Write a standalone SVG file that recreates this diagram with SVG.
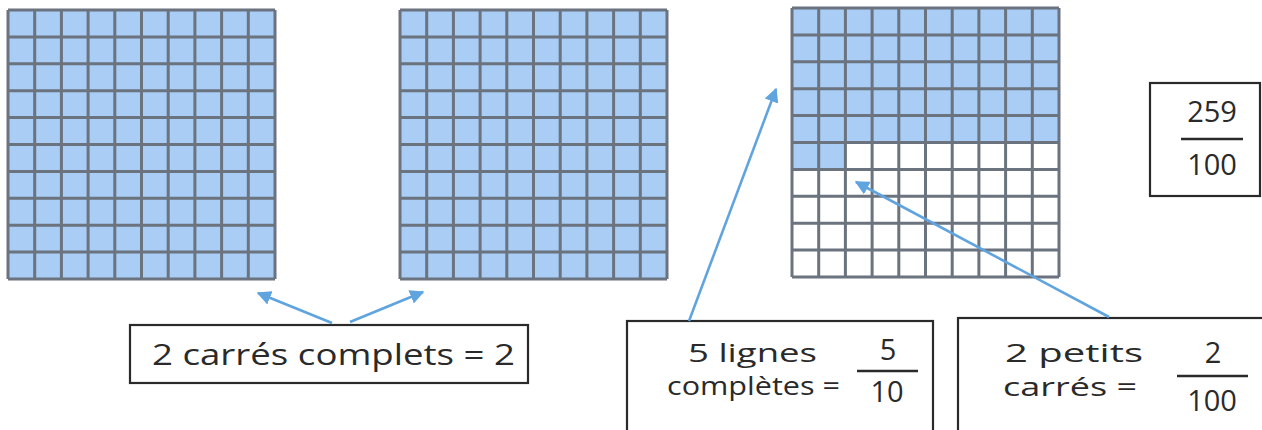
<svg xmlns="http://www.w3.org/2000/svg" xmlns:xlink="http://www.w3.org/1999/xlink" width="1262" height="430" viewBox="0 0 1262 430">
  <style>
    .grid-line { fill: none; stroke: #6a737e; stroke-width: 3; }
    .blue { fill: #a9cdf4; }
    .box { fill: #ffffff; stroke: #2a2a2a; stroke-width: 2.2; }
    .txt { font-family: "Open Sans", "DejaVu Sans", sans-serif; font-size: 29px; fill: #2a2a2a; }
    .small { font-size: 25px; }
    .mid { text-anchor: middle; }
    .bar { stroke: #2a2a2a; stroke-width: 2.6; }
    .conn { fill: none; stroke: #5fa3df; stroke-width: 2.6; }
  </style>
  <defs>
    <marker id="head" viewBox="0 0 10 10" refX="9" refY="5" markerWidth="5.5" markerHeight="5.5" orient="auto" markerUnits="strokeWidth">
      <path d="M0,0 L10,5 L0,10 Z" fill="#5fa3df"/>
    </marker>
    <!-- 10 x 10 lattice of lines, 267 x 269 -->
    <path id="lattice" class="grid-line" d="
      M0,0 V269 M26.7,0 V269 M53.4,0 V269 M80.1,0 V269 M106.8,0 V269 M133.5,0 V269
      M160.2,0 V269 M186.9,0 V269 M213.6,0 V269 M240.3,0 V269 M267,0 V269
      M0,0 H267 M0,26.9 H267 M0,53.8 H267 M0,80.7 H267 M0,107.6 H267 M0,134.5 H267
      M0,161.4 H267 M0,188.3 H267 M0,215.2 H267 M0,242.1 H267 M0,269 H267"/>
  </defs>

  <!-- full hundred square -->
  <g id="square-1" transform="translate(8,10)">
    <rect class="blue" x="0" y="0" width="267" height="269"/>
    <use xlink:href="#lattice"/>
  </g>

  <!-- full hundred square -->
  <g id="square-2" transform="translate(400,10)">
    <rect class="blue" x="0" y="0" width="267" height="269"/>
    <use xlink:href="#lattice"/>
  </g>

  <!-- partial square: 5 rows and 2 cells -->
  <g id="square-3" transform="translate(792,8)">
    <rect x="0" y="0" width="267" height="269" fill="#ffffff"/>
    <rect class="blue" x="0" y="0" width="267" height="134.5"/>
    <rect class="blue" x="0" y="134.5" width="53.4" height="26.9"/>
    <use xlink:href="#lattice"/>
  </g>

  <g id="total">
    <rect class="box" x="1150" y="83" width="110" height="113"/>
    <text class="txt mid" x="1212" y="122">259</text>
    <line class="bar" x1="1181" y1="139" x2="1243" y2="139"/>
    <text class="txt mid" x="1212" y="175">100</text>
  </g>

  <g id="label-squares">
    <rect class="box" x="130" y="325" width="398" height="58"/>
    <text class="txt" x="152" y="365" textLength="363" lengthAdjust="spacingAndGlyphs">2 carrés complets = 2</text>
  </g>

  <g id="label-rows">
    <rect class="box" x="627" y="321" width="306" height="115"/>
    <text class="txt small" x="688" y="362" textLength="129" lengthAdjust="spacingAndGlyphs">5 lignes</text>
    <text class="txt small" x="667" y="395" textLength="173" lengthAdjust="spacingAndGlyphs">complètes =</text>
    <text class="txt mid" x="888" y="360">5</text>
    <line class="bar" x1="857" y1="371" x2="918" y2="371"/>
    <text class="txt mid" x="887" y="402">10</text>
  </g>

  <g id="label-cells">
    <rect class="box" x="958" y="318" width="310" height="118"/>
    <text class="txt small" x="1005" y="362" textLength="138" lengthAdjust="spacingAndGlyphs">2 petits</text>
    <text class="txt small" x="1003" y="396" textLength="134" lengthAdjust="spacingAndGlyphs">carrés =</text>
    <text class="txt mid" x="1213" y="363">2</text>
    <line class="bar" x1="1177" y1="376" x2="1248" y2="376"/>
    <text class="txt mid" x="1212" y="411">100</text>
  </g>

  <g id="connectors">
    <line class="conn" x1="332" y1="323" x2="258" y2="293" marker-end="url(#head)"/>
    <line class="conn" x1="350" y1="322" x2="423" y2="292" marker-end="url(#head)"/>
    <line class="conn" x1="689" y1="321" x2="776" y2="89" marker-end="url(#head)"/>
    <line class="conn" x1="1109" y1="317" x2="856" y2="182" marker-end="url(#head)"/>
  </g>
</svg>
